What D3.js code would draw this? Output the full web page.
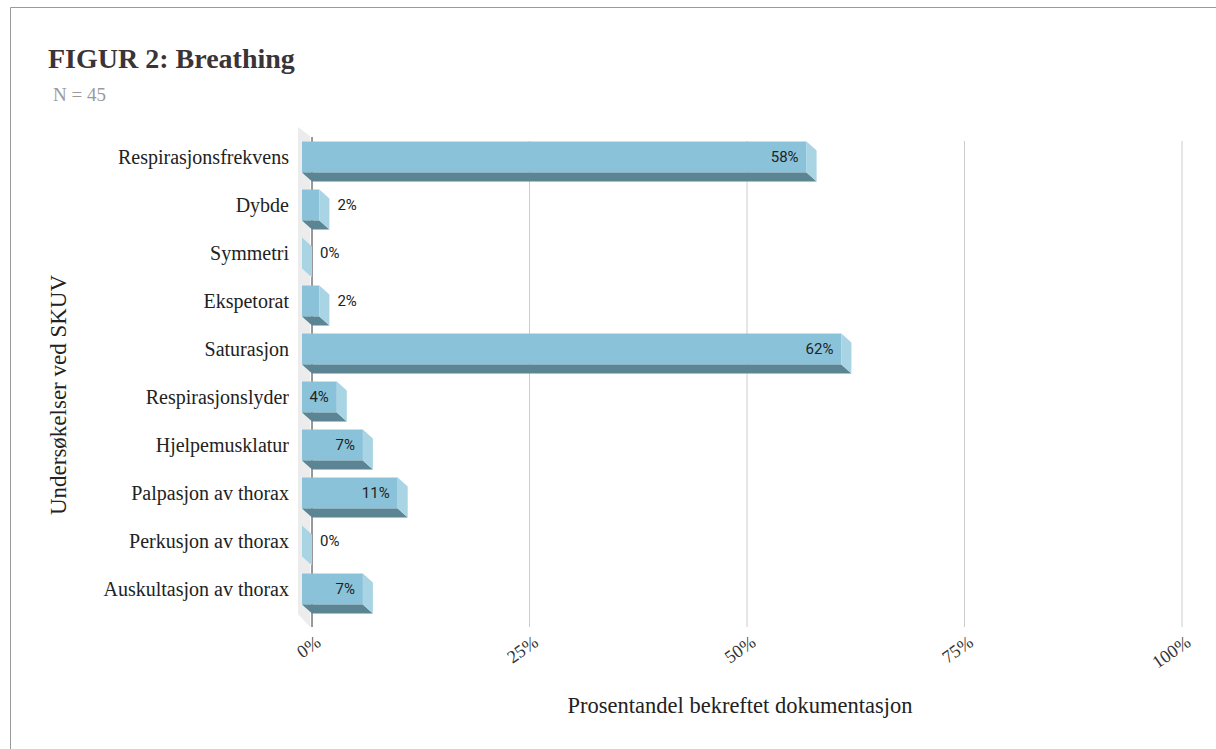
<!DOCTYPE html>
<html>
<head>
<meta charset="utf-8">
<script src="https://cdn.jsdelivr.net/npm/d3@7"></script>
<style>
  body { margin: 0; background: #fff; }
  svg { display: block; }
  .serif { font-family: "Liberation Serif", "Times New Roman", serif; }
</style>
</head>
<body>
<svg id="chart" width="1216" height="749"></svg>
<script>
var categories = ["Respirasjonsfrekvens", "Dybde", "Symmetri", "Ekspetorat", "Saturasjon",
  "Respirasjonslyder", "Hjelpemusklatur", "Palpasjon av thorax", "Perkusjon av thorax", "Auskultasjon av thorax"];
var values = [58, 2, 0, 2, 62, 4, 7, 11, 0, 7];
var ticks = [0, 25, 50, 75, 100];

var svg = d3.select("#chart");

// depth of the 3d effect
var dx = 10, dy = 9;

var x = d3.scaleLinear().domain([0, 100]).range([312, 1182]);
var y = d3.scaleBand().domain(categories).range([133, 613]).paddingInner(0.354).paddingOuter(0.177);

// frame
svg.append("path")
    .attr("d", "M10.5,749 L10.5,7.5 L1216,7.5")
    .attr("fill", "none")
    .attr("stroke", "#9a9a9a");

// title
svg.append("text")
    .attr("class", "serif")
    .attr("x", 48).attr("y", 68)
    .attr("font-size", 28).attr("font-weight", "bold")
    .attr("fill", "#3b3436")
    .text("FIGUR 2: Breathing");

svg.append("text")
    .attr("class", "serif")
    .attr("x", 53).attr("y", 101)
    .attr("font-size", 19)
    .attr("fill", "#9a9a9a")
    .text("N = 45");

// left wall
svg.append("polygon")
    .attr("points", [[x(0) - 14, 127], [x(0) - 2, 136], [x(0) - 2, 627], [x(0) - 14, 614]].join(" "))
    .attr("fill", "#ececec");

// gridlines
svg.selectAll(".grid")
    .data(ticks.slice(1))
  .enter().append("line")
    .attr("x1", function(d) { return x(d); })
    .attr("x2", function(d) { return x(d); })
    .attr("y1", 141).attr("y2", 627)
    .attr("stroke", "#cccccc");

svg.append("line")
    .attr("x1", x(0)).attr("x2", x(0))
    .attr("y1", 137).attr("y2", 627)
    .attr("stroke", "#333");

// tick labels
svg.selectAll(".tick")
    .data(ticks)
  .enter().append("text")
    .attr("class", "serif")
    .attr("text-anchor", "end")
    .attr("font-size", 18)
    .attr("fill", "#333")
    .attr("transform", function(d) { return "translate(" + (x(d) + 10) + ",645) rotate(-35)"; })
    .text(function(d) { return d + "%"; });

// bars
var bar = svg.selectAll(".bar")
    .data(categories)
  .enter().append("g")
    .attr("class", "bar");

bar.append("rect")
    .attr("x", x(0) - dx)
    .attr("y", function(d) { return y(d); })
    .attr("width", function(d, i) { return x(values[i]) - x(0); })
    .attr("height", y.bandwidth())
    .attr("fill", "#8ac3d9");

// bottom face
bar.append("polygon")
    .attr("points", function(d, i) {
      var x0 = x(0) - dx, x1 = x(values[i]) - dx, yb = y(d) + y.bandwidth();
      return [[x0, yb], [x1, yb], [x1 + dx, yb + dy], [x0 + dx, yb + dy]].join(" ");
    })
    .attr("fill", "#5b8593");

// right face
bar.append("polygon")
    .attr("points", function(d, i) {
      var x1 = x(values[i]) - dx, yt = y(d), yb = y(d) + y.bandwidth();
      return [[x1, yt], [x1 + dx, yt + dy], [x1 + dx, yb + dy], [x1, yb]].join(" ");
    })
    .attr("fill", "#a9d4e4");

// value labels
bar.append("text")
    .attr("font-family", "Roboto, sans-serif")
    .attr("font-size", 15)
    .attr("fill", "#222")
    .attr("dy", "0.35em")
    .attr("y", function(d) { return y(d) + y.bandwidth() / 2; })
    .attr("x", function(d, i) { return values[i] >= 4 ? x(values[i]) - dx - 8 : x(values[i]) + 8; })
    .attr("text-anchor", function(d, i) { return values[i] >= 4 ? "end" : "start"; })
    .text(function(d, i) { return values[i] + "%"; });

// category labels
svg.selectAll(".cat")
    .data(categories)
  .enter().append("text")
    .attr("class", "serif")
    .attr("x", 289)
    .attr("y", function(d) { return y(d) + y.bandwidth() / 2; })
    .attr("dy", "0.35em")
    .attr("text-anchor", "end")
    .attr("font-size", 20)
    .attr("fill", "#222")
    .text(function(d) { return d; });

// axis titles
svg.append("text")
    .attr("class", "serif")
    .attr("x", 740).attr("y", 713)
    .attr("text-anchor", "middle")
    .attr("font-size", 22.5)
    .attr("fill", "#222")
    .text("Prosentandel bekreftet dokumentasjon");

svg.append("text")
    .attr("class", "serif")
    .attr("transform", "translate(66,395) rotate(-90)")
    .attr("text-anchor", "middle")
    .attr("font-size", 23)
    .attr("fill", "#222")
    .text("Undersøkelser ved SKUV");
</script>
</body>
</html>
